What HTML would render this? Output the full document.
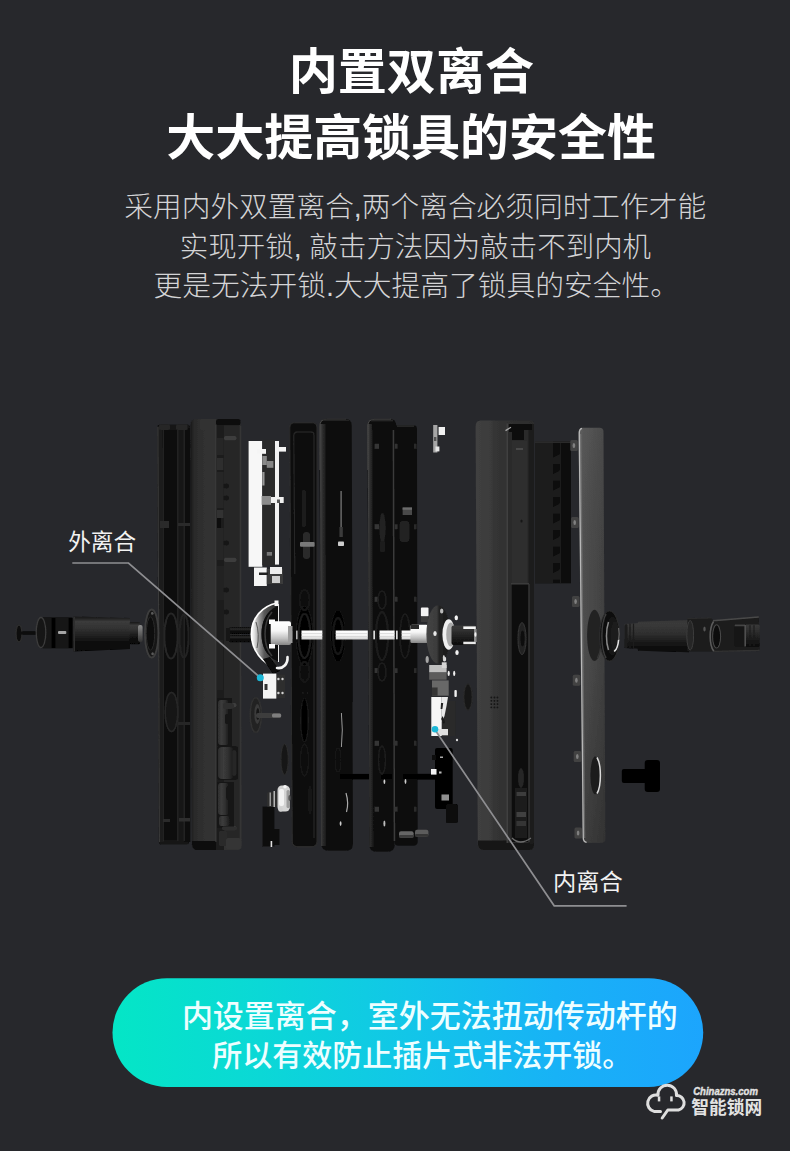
<!DOCTYPE html>
<html><head><meta charset="utf-8"><title>lock</title>
<style>
html,body{margin:0;padding:0;background:#27282c;font-family:"Liberation Sans",sans-serif;}
#p{position:relative;width:790px;height:1151px;overflow:hidden;background:#27282c;}
svg{position:absolute;left:0;top:0;display:block}
</style></head><body><div id="p">
<svg width="790" height="1151" viewBox="0 0 790 1151">
<defs>
<radialGradient id="bg" cx="395" cy="640" r="620" gradientUnits="userSpaceOnUse">
<stop offset="0" stop-color="#2c2e33"/><stop offset="0.55" stop-color="#27282d"/><stop offset="1" stop-color="#222327"/>
</radialGradient>
</defs>
<rect width="790" height="1151" fill="#27282c"/>
<defs><linearGradient id="cylL2" x1="0" y1="0" x2="0" y2="1"><stop offset="0" stop-color="#141414"/><stop offset="0.14" stop-color="#3b3b3b"/><stop offset="0.32" stop-color="#333333"/><stop offset="0.6" stop-color="#1c1c1c"/><stop offset="0.75" stop-color="#0c0c0c"/><stop offset="1" stop-color="#060606"/></linearGradient><linearGradient id="cylR" x1="0" y1="0" x2="0" y2="1"><stop offset="0" stop-color="#363636"/><stop offset="0.12" stop-color="#3a3a3a"/><stop offset="0.45" stop-color="#2d2d2d"/><stop offset="0.75" stop-color="#151515"/><stop offset="1" stop-color="#060606"/></linearGradient><linearGradient id="cylD" x1="0" y1="0" x2="0" y2="1"><stop offset="0" stop-color="#3a3a3a"/><stop offset="0.3" stop-color="#2e2e2e"/><stop offset="0.7" stop-color="#1a1a1a"/><stop offset="1" stop-color="#0b0b0b"/></linearGradient><linearGradient id="cylB" x1="0" y1="0" x2="0" y2="1"><stop offset="0" stop-color="#0a0a0a"/><stop offset="0.3" stop-color="#2a2a2a"/><stop offset="0.6" stop-color="#0d0d0d"/><stop offset="1" stop-color="#050505"/></linearGradient><linearGradient id="cap" x1="0" y1="0" x2="0" y2="1"><stop offset="0" stop-color="#8c8c8c"/><stop offset="0.5" stop-color="#606060"/><stop offset="1" stop-color="#333333"/></linearGradient><linearGradient id="hub" x1="0" y1="0" x2="0" y2="1"><stop offset="0" stop-color="#ffffff"/><stop offset="0.4" stop-color="#f6f6f6"/><stop offset="0.72" stop-color="#c2c2c2"/><stop offset="1" stop-color="#858585"/></linearGradient><linearGradient id="shaft" x1="0" y1="0" x2="0" y2="1"><stop offset="0" stop-color="#ffffff"/><stop offset="0.55" stop-color="#f4f4f4"/><stop offset="1" stop-color="#d2d2d2"/></linearGradient><linearGradient id="cover" x1="0" y1="0" x2="1" y2="0"><stop offset="0" stop-color="#595959"/><stop offset="0.2" stop-color="#4e4e4e"/><stop offset="1" stop-color="#404040"/></linearGradient><linearGradient id="coverV" x1="0" y1="0" x2="0" y2="1"><stop offset="0" stop-color="rgba(255,255,255,0.05)"/><stop offset="0.5" stop-color="rgba(0,0,0,0)"/><stop offset="1" stop-color="rgba(0,0,0,0.22)"/></linearGradient><linearGradient id="p7face" x1="0" y1="0" x2="1" y2="0"><stop offset="0" stop-color="#404040"/><stop offset="0.26" stop-color="#3b3b3b"/><stop offset="0.31" stop-color="#353535"/><stop offset="0.54" stop-color="#303030"/><stop offset="1" stop-color="#2c2c2c"/></linearGradient><linearGradient id="p2face" gradientUnits="userSpaceOnUse" x1="190.5" y1="0" x2="216" y2="0"><stop offset="0" stop-color="#1b1b1b"/><stop offset="0.16" stop-color="#2b2b2b"/><stop offset="0.55" stop-color="#303030"/><stop offset="1" stop-color="#333333"/></linearGradient><linearGradient id="dome" x1="0" y1="0" x2="1" y2="0"><stop offset="0" stop-color="#ffffff"/><stop offset="0.12" stop-color="#e2e2e2"/><stop offset="0.3" stop-color="#9a9a9a"/><stop offset="0.5" stop-color="#5a5a5a"/><stop offset="1" stop-color="#262626"/></linearGradient><linearGradient id="disc" x1="0" y1="0" x2="1" y2="0"><stop offset="0" stop-color="#454545"/><stop offset="0.45" stop-color="#3b3b3b"/><stop offset="0.55" stop-color="#222"/><stop offset="1" stop-color="#1b1b1b"/></linearGradient><linearGradient id="rcyl" x1="0" y1="0" x2="1" y2="0"><stop offset="0" stop-color="#2e2e2e"/><stop offset="0.35" stop-color="#3c3c3c"/><stop offset="0.7" stop-color="#2c2c2c"/><stop offset="1" stop-color="#161616"/></linearGradient><linearGradient id="bev" x1="0" y1="0" x2="1" y2="0"><stop offset="0" stop-color="#484848"/><stop offset="0.35" stop-color="#303030"/><stop offset="1" stop-color="#191919"/></linearGradient><filter id="soft" x="-2%" y="-2%" width="104%" height="104%"><feGaussianBlur stdDeviation="0.45"/></filter></defs>
<g filter="url(#soft)"><path d="M159.4,424.8 H188.0 Q190.0,424.8 190.0,426.8 L189.0,842.6 Q189.0,844.6 187.0,844.6 H160.9 Q158.9,844.6 158.9,842.6 L157.4,426.8 Q157.4,424.8 159.4,424.8Z" fill="#121212" />
<path d="M157.4,427 L158.9,842 L163.8,842 L162.6,427Z" fill="#1f1f1f" />
<path d="M157.9,427 L159.4,842" fill="none" stroke="#3b3b3b" stroke-width="1"/>
<rect x="163.0" y="430.0" width="15.0" height="410.0" fill="#0b0b0b"/>
<rect x="178.0" y="429.0" width="6.0" height="413.0" fill="#191919"/>
<rect x="184.0" y="428.0" width="6.5" height="414.0" fill="#111111"/>
<line x1="177.8" y1="430.0" x2="177.8" y2="841.0" stroke="#303030" stroke-width="0.9" />
<line x1="184.2" y1="430.0" x2="184.2" y2="841.0" stroke="#2c2c2c" stroke-width="0.9" />
<line x1="163.4" y1="430.0" x2="163.4" y2="841.0" stroke="#2a2a2a" stroke-width="0.8" />
<rect x="159.0" y="424.3" width="11.0" height="5.7" fill="#252525" rx="1.5"/>
<rect x="176.0" y="424.3" width="11.5" height="5.7" fill="#252525" rx="1.5"/>
<rect x="160.0" y="521.0" width="9.0" height="7.0" fill="#2c2c2c"/>
<rect x="178.0" y="523.0" width="12.0" height="3.0" fill="#2b2b2b"/>
<ellipse cx="171.0" cy="636.0" rx="6.7" ry="22.5" fill="#090909" stroke="#272727" stroke-width="2"/>
<ellipse cx="184.0" cy="636.0" rx="4.6" ry="21.5" fill="none" stroke="#242424" stroke-width="1.8"/>
<ellipse cx="171.5" cy="712.0" rx="6.3" ry="19.5" fill="#141414" stroke="#262626" stroke-width="1.8"/>
<rect x="163.0" y="819.0" width="7.0" height="3.0" fill="#2c2c2c"/>
<rect x="179.0" y="818.0" width="11.0" height="3.5" fill="#2e2e2e"/>
<rect x="178.0" y="722.0" width="12.0" height="3.0" fill="#272727"/>
<path d="M196.5,419 H236 Q240.5,419 240.5,424 L241.6,846 Q241.6,850 237,850 H197.5 Q192,850 191.8,844 L190.5,425 Q190.5,419 196.5,419Z" fill="url(#p2face)" />
<rect x="200.0" y="419.0" width="16.0" height="11.0" fill="#323232" rx="2"/>
<rect x="216.0" y="419.0" width="24.5" height="6.5" fill="#101010" rx="2"/>
<path d="M192.2,841 H217 V850 H197.5 Q192.2,850 192.2,844Z" fill="#0d0d0d" />
<rect x="216.0" y="425.0" width="8.0" height="425.0" fill="#1c1c1c"/>
<rect x="215.4" y="425.0" width="1.1" height="417.0" fill="#3c3c3c"/>
<rect x="224.0" y="425.5" width="17.0" height="420.5" fill="#272727"/>
<rect x="239.6" y="426.0" width="1.6" height="420.0" fill="#343434"/>
<rect x="217.0" y="438.0" width="6.5" height="17.0" fill="#272727"/>
<rect x="217.0" y="458.0" width="6.5" height="12.0" fill="#2d2d2d"/>
<rect x="217.0" y="472.0" width="6.5" height="36.0" fill="#252525"/>
<rect x="217.0" y="510.0" width="6.5" height="8.0" fill="#303030"/>
<rect x="217.0" y="528.0" width="6.5" height="32.0" fill="#262626"/>
<rect x="217.0" y="566.0" width="6.5" height="34.0" fill="#242424"/>
<rect x="217.0" y="640.0" width="6.5" height="50.0" fill="#232323"/>
<rect x="217.0" y="518.0" width="4.0" height="10.0" fill="#080808"/>
<rect x="224.0" y="436.0" width="12.5" height="4.3" fill="#3e3e3e" rx="2"/>
<rect x="224.0" y="557.7" width="12.5" height="4.3" fill="#3e3e3e" rx="2"/>
<rect x="224.0" y="703.0" width="12.5" height="4.3" fill="#3e3e3e" rx="2"/>
<rect x="224.0" y="826.0" width="12.5" height="4.3" fill="#3e3e3e" rx="2"/>
<rect x="223.5" y="483.5" width="5.5" height="5.0" fill="#181818" rx="2"/>
<rect x="223.5" y="495.5" width="5.5" height="5.0" fill="#181818" rx="2"/>
<rect x="223.5" y="540.5" width="5.5" height="5.0" fill="#181818" rx="2"/>
<rect x="223.5" y="587.5" width="5.5" height="5.0" fill="#181818" rx="2"/>
<rect x="223.5" y="609.5" width="5.5" height="5.0" fill="#181818" rx="2"/>
<rect x="217.0" y="698.0" width="15.0" height="48.0" fill="#161616"/>
<rect x="218.0" y="700.0" width="11.0" height="45.0" fill="url(#rcyl)" rx="3"/>
<rect x="223.0" y="703.0" width="11.0" height="6.0" fill="#2e2e2e" rx="2.5"/>
<rect x="225.0" y="714.0" width="4.5" height="10.0" fill="#141414" rx="2"/>
<rect x="217.0" y="746.0" width="21.0" height="34.0" fill="#131313" rx="3"/>
<rect x="218.0" y="747.0" width="16.0" height="32.0" fill="url(#rcyl)" rx="4"/>
<rect x="232.5" y="750.0" width="4.0" height="26.0" fill="#262626" rx="2"/>
<rect x="217.0" y="782.0" width="17.0" height="46.0" fill="#151515"/>
<rect x="218.0" y="783.0" width="11.0" height="32.0" fill="url(#rcyl)" rx="3"/>
<rect x="226.0" y="786.0" width="7.0" height="14.0" fill="#161616" rx="3"/>
<rect x="219.0" y="816.0" width="11.0" height="10.0" fill="url(#rcyl)" rx="2"/>
<rect x="222.0" y="826.5" width="15.0" height="3.5" fill="#2f2f2f" rx="1.5"/>
<rect x="219.0" y="831.0" width="8.0" height="15.0" fill="#2c2c2c" rx="2"/>
<rect x="226.0" y="838.0" width="15.0" height="11.0" fill="#363636" rx="3"/>
<rect x="248.6" y="441.0" width="13.7" height="125.8" fill="#f7f7f7"/>
<rect x="262.3" y="439.8" width="12.7" height="125.5" fill="#2a2a2a"/>
<rect x="275.0" y="441.0" width="4.0" height="123.6" fill="#f2f2f2"/>
<rect x="279.0" y="447.0" width="7.0" height="4.6" fill="#f5f5f5"/>
<rect x="257.0" y="449.0" width="9.0" height="4.8" fill="#f5f5f5"/>
<rect x="262.3" y="456.0" width="4.5" height="9.0" fill="#8a8a8a"/>
<rect x="266.8" y="461.0" width="6.6" height="6.8" fill="#858585"/>
<rect x="262.3" y="472.0" width="2.2" height="13.5" fill="#9a9a9a"/>
<rect x="261.6" y="496.0" width="9.4" height="8.8" fill="#8c8c8c"/>
<rect x="271.0" y="497.0" width="12.7" height="6.0" fill="#f0f0f0"/>
<rect x="277.0" y="499.5" width="3.0" height="3.5" fill="#555"/>
<rect x="266.8" y="552.0" width="5.2" height="3.7" fill="#777"/>
<rect x="254.0" y="567.5" width="12.8" height="18.5" fill="#f5f5f5"/>
<rect x="266.8" y="569.0" width="16.2" height="15.0" fill="#3a3a3a"/>
<rect x="270.0" y="567.0" width="12.0" height="7.0" fill="#ededed"/>
<rect x="272.0" y="576.0" width="8.0" height="7.0" fill="#cfcfcf"/>
<rect x="259.0" y="572.5" width="9.0" height="2.5" fill="#222"/>
<path d="M294.8,422.8 H312.0 Q317.0,422.8 317.0,427.8 L317.0,841.6 Q317.0,846.6 312.0,846.6 H297.3 Q292.3,846.6 292.3,841.6 L289.8,427.8 Q289.8,422.8 294.8,422.8Z" fill="#0a0a0a" stroke="#2c2c2c" stroke-width="1.1"/>
<path d="M294.8,574 L293.8,436 Q293.8,432 297.5,432 H311 Q314,432 314,435 V838" fill="none" stroke="#262626" stroke-width="1.3"/>
<rect x="301.8" y="490.0" width="4.2" height="37.0" fill="#1f1f1f" rx="2"/>
<rect x="303.0" y="532.0" width="7.0" height="27.0" fill="#2c2c2c" rx="3"/>
<rect x="300.0" y="542.0" width="14.6" height="4.7" fill="#7a7a7a" rx="1"/>
<ellipse cx="304.5" cy="636.0" rx="8.5" ry="30.0" fill="#040404" stroke="#161616" stroke-width="1.2"/>
<ellipse cx="304.5" cy="720.0" rx="4.0" ry="22.0" fill="#060606" stroke="#1a1a1a" stroke-width="1.2"/>
<ellipse cx="310.0" cy="800.0" rx="2.5" ry="14.0" fill="#181818" />
<ellipse cx="303.0" cy="680.0" rx="0.9" ry="0.9" fill="#222" />
<ellipse cx="307.5" cy="680.0" rx="0.9" ry="0.9" fill="#222" />
<ellipse cx="303.0" cy="693.0" rx="0.9" ry="0.9" fill="#222" />
<ellipse cx="307.5" cy="693.0" rx="0.9" ry="0.9" fill="#222" />
<path d="M326.4,418.8 H344.8 Q351.8,418.8 351.8,425.8 L353.0,843.7 Q353.0,850.7 346.0,850.7 H328.4 Q321.4,850.7 321.4,843.7 L319.4,425.8 Q319.4,418.8 326.4,418.8Z" fill="#0c0c0c" />
<path d="M319.9,470 L319.8,426 Q319.8,419.3 326.5,419.3 H346" fill="none" stroke="#474747" stroke-width="1.1"/>
<path d="M320,424 L321,846 L326.2,846 L325.6,424Z" fill="url(#bev)" />
<rect x="323.0" y="419.4" width="26.0" height="1.8" fill="#242424"/>
<rect x="340.4" y="491.0" width="1.4" height="38.0" fill="#6f6f6f"/>
<rect x="339.4" y="527.0" width="3.4" height="10.0" fill="#3a3a3a"/>
<rect x="338.0" y="541.5" width="6.0" height="4.5" fill="#cdcdcd" rx="0.8"/>
<ellipse cx="338.0" cy="636.0" rx="7.5" ry="26.0" fill="#050505" stroke="#141414" stroke-width="1"/>
<path d="M341.4,713 Q343.2,730 341.4,747" fill="none" stroke="#9a9a9a" stroke-width="1"/>
<path d="M346,793 Q349,803 346.5,812" fill="none" stroke="#aaaaaa" stroke-width="1.2"/>
<ellipse cx="340.6" cy="823.6" rx="0.9" ry="2.4" fill="#ccc" />
<rect x="340.0" y="773.9" width="96.0" height="5.5" fill="#040404"/>
<path d="M374.4,418.8 H389.2 Q396.2,418.8 396.2,425.8 L394.6,844.7 Q394.6,851.7 387.6,851.7 H376.4 Q369.4,851.7 369.4,844.7 L367.4,425.8 Q367.4,418.8 374.4,418.8Z" fill="#0e0e0e" />
<path d="M367.9,470 L367.8,426 Q367.8,419.3 374.5,419.3 H391" fill="none" stroke="#474747" stroke-width="1.1"/>
<path d="M367.7,424 L369.5,847 L373.4,847 L372.2,424Z" fill="url(#bev)" />
<rect x="371.0" y="419.6" width="22.0" height="1.8" fill="#272727"/>
<rect x="374.6" y="443.8" width="4.4" height="5.0" fill="#363636"/>
<rect x="374.6" y="524.2" width="4.4" height="5.0" fill="#363636"/>
<rect x="374.6" y="596.8" width="4.4" height="5.0" fill="#363636"/>
<rect x="374.6" y="668.1" width="4.4" height="5.0" fill="#363636"/>
<rect x="374.6" y="740.8" width="4.4" height="5.0" fill="#363636"/>
<rect x="374.6" y="806.7" width="4.4" height="5.0" fill="#363636"/>
<ellipse cx="382.5" cy="528.0" rx="3.2" ry="15.0" fill="#222" />
<rect x="380.0" y="541.0" width="5.0" height="11.0" fill="#1e1e1e" rx="2"/>
<ellipse cx="384.4" cy="781.5" rx="0.9" ry="2.6" fill="#cfcfcf" />
<ellipse cx="384.4" cy="823.6" rx="1.0" ry="3.0" fill="#bdbdbd" />
<rect x="380.6" y="773.9" width="11.4" height="5.5" fill="#030303"/>
<path d="M396.9,425.3 H413.5 Q417.0,425.3 417.0,428.8 L417.5,841.9 Q417.5,845.4 414.0,845.4 H397.9 Q394.4,845.4 394.4,841.9 L393.4,428.8 Q393.4,425.3 396.9,425.3Z" fill="#0d0d0d" />
<path d="M393.4,430 L394.4,841" fill="none" stroke="#3a3a3a" stroke-width="1.5"/>
<rect x="397.0" y="425.3" width="17.0" height="1.5" fill="#2c2c2c"/>
<rect x="402.6" y="507.5" width="9.4" height="7.5" fill="#484848"/>
<rect x="402.6" y="507.5" width="9.4" height="2.3" fill="#6c6c6c"/>
<rect x="399.7" y="521.0" width="9.6" height="21.0" fill="#232323" rx="3"/>
<rect x="394.6" y="443.8" width="3.0" height="5.0" fill="#303030"/>
<rect x="414.0" y="443.8" width="2.6" height="5.0" fill="#2b2b2b"/>
<rect x="394.6" y="524.2" width="3.0" height="5.0" fill="#303030"/>
<rect x="414.0" y="524.2" width="2.6" height="5.0" fill="#2b2b2b"/>
<rect x="394.6" y="596.8" width="3.0" height="5.0" fill="#303030"/>
<rect x="414.0" y="596.8" width="2.6" height="5.0" fill="#2b2b2b"/>
<rect x="394.6" y="668.1" width="3.0" height="5.0" fill="#303030"/>
<rect x="414.0" y="668.1" width="2.6" height="5.0" fill="#2b2b2b"/>
<rect x="394.6" y="740.8" width="3.0" height="5.0" fill="#303030"/>
<rect x="414.0" y="740.8" width="2.6" height="5.0" fill="#2b2b2b"/>
<rect x="394.6" y="806.7" width="3.0" height="5.0" fill="#303030"/>
<rect x="414.0" y="806.7" width="2.6" height="5.0" fill="#2b2b2b"/>
<rect x="402.6" y="773.9" width="33.4" height="5.5" fill="#030303"/>
<ellipse cx="405.5" cy="781.5" rx="0.9" ry="2.4" fill="#cfcfcf" />
<rect x="399.0" y="831.3" width="14.6" height="6.5" fill="#666666" rx="2"/>
<rect x="415.0" y="829.8" width="13.4" height="7.0" fill="#5c5c5c" rx="2"/>
<rect x="399.0" y="835.0" width="14.6" height="2.8" fill="#3c3c3c" rx="1"/>
<rect x="415.0" y="834.0" width="13.4" height="2.8" fill="#363636" rx="1"/>
<ellipse cx="304.5" cy="636.0" rx="6.0" ry="22.0" fill="none" stroke="#1c1c1c" stroke-width="2"/>
<ellipse cx="304.5" cy="600.0" rx="5.0" ry="10.0" fill="none" stroke="#191919" stroke-width="2"/>
<ellipse cx="304.5" cy="672.0" rx="5.0" ry="10.0" fill="none" stroke="#191919" stroke-width="2"/>
<ellipse cx="338.0" cy="636.0" rx="5.0" ry="18.0" fill="none" stroke="#171717" stroke-width="2"/>
<ellipse cx="382.0" cy="636.0" rx="6.0" ry="24.0" fill="none" stroke="#1f1f1f" stroke-width="2"/>
<ellipse cx="382.0" cy="600.0" rx="4.0" ry="9.0" fill="none" stroke="#1d1d1d" stroke-width="1.6"/>
<ellipse cx="382.0" cy="672.0" rx="4.0" ry="9.0" fill="none" stroke="#1d1d1d" stroke-width="1.6"/>
<ellipse cx="405.0" cy="636.0" rx="5.0" ry="22.0" fill="none" stroke="#1b1b1b" stroke-width="1.8"/>
<ellipse cx="304.5" cy="760.0" rx="4.0" ry="16.0" fill="none" stroke="#181818" stroke-width="1.6"/>
<ellipse cx="382.0" cy="760.0" rx="3.5" ry="14.0" fill="none" stroke="#1c1c1c" stroke-width="1.5"/>
<ellipse cx="338.0" cy="760.0" rx="3.0" ry="12.0" fill="none" stroke="#151515" stroke-width="1.4"/>
<rect x="433.2" y="425.0" width="4.2" height="27.5" fill="#a6a6a6"/>
<rect x="438.6" y="427.0" width="6.4" height="8.0" fill="#f0f0f0"/>
<rect x="435.5" y="446.5" width="3.9" height="4.9" fill="#e6e6e6"/>
<rect x="434.0" y="437.0" width="2.4" height="4.0" fill="#555"/>
<rect x="301.5" y="630.5" width="20.8" height="9.0" fill="url(#shaft)"/>
<rect x="335.7" y="630.5" width="32.1" height="9.0" fill="url(#shaft)"/>
<rect x="379.5" y="630.5" width="15.1" height="9.0" fill="url(#shaft)"/>
<rect x="401.6" y="630.5" width="10.4" height="9.0" fill="url(#shaft)"/>
<rect x="296.0" y="630.6" width="1.6" height="8.7" fill="#b5b5b5"/>
<rect x="291.0" y="631.0" width="1.2" height="8.0" fill="#9a9a9a"/>
<rect x="373.3" y="630.6" width="1.7" height="8.7" fill="#dcdcdc"/>
<rect x="396.0" y="630.6" width="1.7" height="8.7" fill="#dcdcdc"/>
<rect x="301.5" y="633.2" width="20.8" height="0.6" fill="#cdcdcd"/>
<rect x="301.5" y="636.0" width="20.8" height="0.6" fill="#cdcdcd"/>
<rect x="335.7" y="633.2" width="32.1" height="0.6" fill="#cdcdcd"/>
<rect x="335.7" y="636.0" width="32.1" height="0.6" fill="#cdcdcd"/>
<rect x="379.5" y="633.2" width="15.1" height="0.6" fill="#cdcdcd"/>
<rect x="379.5" y="636.0" width="15.1" height="0.6" fill="#cdcdcd"/>
<rect x="401.6" y="633.2" width="10.4" height="0.6" fill="#cdcdcd"/>
<rect x="401.6" y="636.0" width="10.4" height="0.6" fill="#cdcdcd"/>
<rect x="229.0" y="627.0" width="24.0" height="7.0" fill="url(#cylB)" rx="1.5"/>
<rect x="229.0" y="635.0" width="24.0" height="7.2" fill="url(#cylB)" rx="1.5"/>
<rect x="226.0" y="628.0" width="4.0" height="13.0" fill="#181818"/>
<path d="M277,603 C262,606 251.5,618 251.3,634 C251.5,650 262,664 277,668 L277,661 C266,656 261.5,646 261.5,634 C261.5,622 266,611 277,606.5Z" fill="url(#dome)" />
<path d="M277,603 C262,606 251.5,618 251.3,634 C251.5,650 262,664 277,668" fill="none" stroke="#ffffff" stroke-width="1.6"/>
<path d="M277,606.5 C266,611 261.5,622 261.5,634 C261.5,646 266,656 277,661 L279,661 L279,606.5Z" fill="#0c0c0c" />
<path d="M272,612 C266.5,618 265,626 265,634 C265,642 266.5,650 272,656" fill="none" stroke="#3a3a3a" stroke-width="1.6"/>
<path d="M256,622 Q260,634 257,648" fill="none" stroke="#555" stroke-width="1"/>
<rect x="274.5" y="600.5" width="4.0" height="5.5" fill="#f6f6f6"/>
<rect x="278.0" y="604.0" width="1.0" height="58.0" fill="#e8e8e8"/>
<rect x="270.7" y="621.3" width="20.3" height="23.7" fill="url(#hub)" rx="2"/>
<rect x="269.0" y="619.5" width="6.0" height="4.5" fill="#fbfbfb"/>
<rect x="269.0" y="644.0" width="6.0" height="4.5" fill="#fbfbfb"/>
<rect x="288.0" y="626.0" width="4.5" height="17.0" fill="#9c9c9c"/>
<path d="M263,659 L270,657 L280,671 L273,674Z" fill="#070707" />
<path d="M277,668 C283,669 288,664 287.5,657" fill="none" stroke="#f5f5f5" stroke-width="2.6" stroke-linecap="round"/>
<rect x="276.3" y="674.5" width="8.7" height="23.5" fill="#2f2f2f"/>
<rect x="263.0" y="673.6" width="13.3" height="25.0" fill="#f4f4f4"/>
<rect x="264.5" y="684.0" width="3.0" height="6.0" fill="#333"/>
<ellipse cx="278.4" cy="679.0" rx="1.2" ry="1.2" fill="#d2d2d2" />
<ellipse cx="282.5" cy="679.0" rx="1.2" ry="1.2" fill="#d2d2d2" />
<ellipse cx="278.4" cy="693.0" rx="1.2" ry="1.2" fill="#d2d2d2" />
<ellipse cx="282.5" cy="693.0" rx="1.2" ry="1.2" fill="#d2d2d2" />
<ellipse cx="255.8" cy="715.0" rx="5.6" ry="17.2" fill="#222222" stroke="#303030" stroke-width="1.6"/>
<ellipse cx="257.3" cy="714.0" rx="3.0" ry="10.0" fill="#3a3a3a" />
<ellipse cx="257.8" cy="714.0" rx="1.6" ry="6.0" fill="#161616" />
<rect x="256.0" y="713.0" width="25.0" height="5.0" fill="#3c3c3c" rx="2"/>
<rect x="272.0" y="713.4" width="9.2" height="4.2" fill="#7e7e7e" rx="1.5"/>
<ellipse cx="284.6" cy="759.4" rx="3.7" ry="15.5" fill="#181818" stroke="#2c2c2c" stroke-width="1"/>
<rect x="262.4" y="806.7" width="11.9" height="39.9" fill="#0f0f0f"/>
<rect x="274.0" y="829.0" width="5.6" height="16.0" fill="#101010"/>
<rect x="267.0" y="792.0" width="11.0" height="15.0" fill="#2e2e2e" rx="2"/>
<rect x="269.5" y="792.5" width="1.5" height="13.5" fill="#9a9a9a"/>
<rect x="273.5" y="791.0" width="1.5" height="16.0" fill="#b5b5b5"/>
<rect x="277.5" y="785.5" width="12.5" height="26.0" fill="#d4d4d4" rx="4.5"/>
<rect x="279.0" y="789.0" width="5.0" height="17.0" fill="#f2f2f2" rx="2"/>
<rect x="286.5" y="790.0" width="3.5" height="18.0" fill="#9c9c9c" rx="1.5"/>
<ellipse cx="285.0" cy="786.8" rx="1.8" ry="1.8" fill="#f6f6f6" />
<ellipse cx="280.5" cy="809.5" rx="2.2" ry="2.2" fill="#cfcfcf" />
<ellipse cx="289.5" cy="798.0" rx="1.2" ry="3.0" fill="#555" />
<rect x="270.6" y="841.0" width="1.6" height="6.0" fill="#e0e0e0"/>
<rect x="410.4" y="624.8" width="17.4" height="18.2" fill="url(#hub)" rx="1.5"/>
<rect x="410.4" y="624.8" width="8.6" height="4.2" fill="#2c2c2c"/>
<ellipse cx="438.2" cy="634.5" rx="11.8" ry="29.2" fill="url(#disc)" />
<rect x="420.9" y="607.4" width="7.6" height="9.0" fill="#f4f4f4" rx="1"/>
<rect x="421.0" y="616.4" width="7.0" height="5.6" fill="#3a3a3a"/>
<ellipse cx="448.7" cy="634.5" rx="6.3" ry="15.3" fill="#efefef" />
<ellipse cx="450.8" cy="634.5" rx="4.6" ry="12.0" fill="#a9a9a9" />
<rect x="451.5" y="625.5" width="24.5" height="19.5" fill="url(#cylD)" rx="2"/>
<rect x="463.3" y="626.4" width="12.5" height="2.6" fill="#f5f5f5"/>
<rect x="463.3" y="641.7" width="12.5" height="2.5" fill="#e9e9e9"/>
<rect x="474.0" y="629.0" width="2.8" height="13.0" fill="#8c8c8c"/>
<ellipse cx="475.6" cy="634.5" rx="1.2" ry="2.2" fill="#f2f2f2" />
<ellipse cx="441.7" cy="610.9" rx="1.7" ry="2.5" fill="#bbb" />
<ellipse cx="456.3" cy="617.8" rx="1.7" ry="2.5" fill="#f3f3f3" />
<ellipse cx="457.0" cy="652.6" rx="1.7" ry="2.5" fill="#f3f3f3" />
<ellipse cx="444.5" cy="659.0" rx="1.7" ry="2.5" fill="#ddd" />
<ellipse cx="435.0" cy="633.5" rx="1.7" ry="2.5" fill="#e8e8e8" />
<ellipse cx="427.2" cy="659.5" rx="1.6" ry="3.6" fill="#a5a5a5" />
<ellipse cx="443.8" cy="657.5" rx="1.0" ry="2.5" fill="#cfcfcf" />
<rect x="429.2" y="665.0" width="17.4" height="7.5" fill="#bfbfbf"/>
<rect x="441.8" y="662.3" width="4.8" height="5.7" fill="#d4d4d4"/>
<rect x="429.2" y="672.5" width="17.4" height="7.2" fill="#5c5c5c"/>
<ellipse cx="448.7" cy="673.4" rx="1.1" ry="2.6" fill="#efefef" />
<ellipse cx="454.2" cy="673.4" rx="1.1" ry="2.6" fill="#efefef" />
<rect x="432.0" y="680.4" width="16.7" height="15.3" fill="#676767"/>
<rect x="432.0" y="687.5" width="5.6" height="8.2" fill="#343434"/>
<rect x="454.4" y="690.0" width="2.4" height="7.0" fill="#f0f0f0" rx="1"/>
<ellipse cx="468.0" cy="697.0" rx="4.2" ry="13.2" fill="#191919" stroke="#2b2b2b" stroke-width="1"/>
<rect x="441.7" y="701.0" width="13.9" height="35.0" fill="#2a2a2a"/>
<rect x="431.3" y="697.0" width="10.4" height="39.0" fill="#f6f6f6"/>
<path d="M441.7,697 L448,697 L446.5,706 L444.5,716 L441.7,722Z" fill="#e9e9e9" />
<path d="M441,703 L443.2,703 L442.4,709 L440.6,709Z" fill="#222" />
<path d="M442.5,716 L445.2,722 L443.5,724 L441.2,719Z" fill="#1a1a1a" />
<rect x="437.5" y="729.0" width="10.5" height="6.3" fill="#e0e0e0"/>
<ellipse cx="457.0" cy="740.0" rx="1.1" ry="1.3" fill="#dedede" />
<rect x="435.0" y="748.0" width="17.7" height="61.0" fill="#060606" rx="2"/>
<rect x="446.0" y="804.0" width="11.7" height="19.0" fill="#080808" rx="1.5"/>
<rect x="432.0" y="755.0" width="4.0" height="5.0" fill="#0a0a0a"/>
<rect x="431.0" y="769.0" width="5.5" height="5.6" fill="#f2f2f2"/>
<rect x="441.5" y="794.5" width="7.5" height="6.0" fill="#8f8f8f"/>
<rect x="440.0" y="756.5" width="3.0" height="1.5" fill="#aaa"/>
<rect x="439.0" y="771.5" width="2.5" height="2.0" fill="#bbb"/>
<path d="M480.5,420.6 H530 Q534,420.6 534,424.5 V845 Q534,850 529,850 H483.5 Q478,850 477.8,844 L475.6,427 Q475.6,420.6 480.5,420.6Z" fill="url(#p7face)" />
<path d="M478,840.5 H534 V845 Q534,850 529,850 H483.5 Q478,850 478,844Z" fill="#181818" />
<rect x="507.0" y="424.0" width="22.0" height="419.0" fill="#2c2c2c"/>
<rect x="506.6" y="423.5" width="1.2" height="419.5" fill="#484848"/>
<rect x="528.6" y="424.0" width="5.4" height="420.0" fill="#1a1a1a" rx="1"/>
<path d="M509,424 H532 V430 H524 V440 H512 V432 H509Z" fill="#0b0b0b" />
<rect x="512.0" y="441.0" width="15.0" height="143.0" fill="#2f2f2f"/>
<rect x="516.0" y="448.0" width="7.0" height="2.0" fill="#484848"/>
<path d="M505.5,430.6 L511,427.3" fill="none" stroke="#a8a8a8" stroke-width="1.3"/>
<rect x="511.6" y="584.0" width="17.4" height="258.0" fill="#101010"/>
<rect x="528.4" y="584.0" width="1.2" height="258.0" fill="#3c3c3c"/>
<rect x="511.0" y="583.0" width="18.0" height="1.5" fill="#3a3a3a"/>
<ellipse cx="522.0" cy="638.6" rx="4.0" ry="16.0" fill="#242424" stroke="#353535" stroke-width="1"/>
<ellipse cx="522.5" cy="638.6" rx="2.0" ry="8.0" fill="#090909" />
<ellipse cx="521.0" cy="778.0" rx="3.0" ry="10.0" fill="#262626" />
<rect x="515.0" y="788.0" width="12.0" height="50.0" fill="#1c1c1c"/>
<rect x="516.5" y="792.0" width="9.5" height="4.0" fill="#3c3c3c"/>
<rect x="516.5" y="812.0" width="9.5" height="5.0" fill="#3f3f3f"/>
<rect x="516.5" y="821.0" width="9.5" height="5.0" fill="#363636"/>
<path d="M512,838 Q520,846 531,838" fill="none" stroke="#6d6d6d" stroke-width="1.3"/>
<ellipse cx="491.3" cy="697.5" rx="0.9" ry="0.9" fill="#141414" />
<ellipse cx="494.4" cy="697.5" rx="0.9" ry="0.9" fill="#141414" />
<ellipse cx="497.5" cy="697.5" rx="0.9" ry="0.9" fill="#141414" />
<ellipse cx="491.3" cy="700.8" rx="0.9" ry="0.9" fill="#141414" />
<ellipse cx="494.4" cy="700.8" rx="0.9" ry="0.9" fill="#141414" />
<ellipse cx="497.5" cy="700.8" rx="0.9" ry="0.9" fill="#141414" />
<ellipse cx="491.3" cy="704.1" rx="0.9" ry="0.9" fill="#141414" />
<ellipse cx="494.4" cy="704.1" rx="0.9" ry="0.9" fill="#141414" />
<ellipse cx="497.5" cy="704.1" rx="0.9" ry="0.9" fill="#141414" />
<ellipse cx="491.3" cy="707.4" rx="0.9" ry="0.9" fill="#141414" />
<ellipse cx="494.4" cy="707.4" rx="0.9" ry="0.9" fill="#141414" />
<ellipse cx="497.5" cy="707.4" rx="0.9" ry="0.9" fill="#141414" />
<ellipse cx="521.5" cy="521.0" rx="1.0" ry="1.6" fill="#141414" />
<rect x="535.0" y="441.6" width="18.0" height="141.9" fill="#1c1c1c"/>
<rect x="553.0" y="441.6" width="18.0" height="141.9" fill="#101010"/>
<rect x="535.0" y="441.6" width="36.0" height="1.4" fill="#2a2a2a"/>
<path d="M553,458.0 L560,454.0 L560,464.0 L553,464.0Z" fill="#1e1e1e" />
<path d="M553,474.5 L560,470.5 L560,480.5 L553,480.5Z" fill="#1e1e1e" />
<path d="M553,491.0 L560,487.0 L560,497.0 L553,497.0Z" fill="#1e1e1e" />
<path d="M553,507.5 L560,503.5 L560,513.5 L553,513.5Z" fill="#1e1e1e" />
<path d="M553,524.0 L560,520.0 L560,530.0 L553,530.0Z" fill="#1e1e1e" />
<path d="M553,540.5 L560,536.5 L560,546.5 L553,546.5Z" fill="#1e1e1e" />
<path d="M553,557.0 L560,553.0 L560,563.0 L553,563.0Z" fill="#1e1e1e" />
<path d="M553,573.5 L560,569.5 L560,579.5 L553,579.5Z" fill="#1e1e1e" />
<rect x="560.0" y="443.0" width="1.0" height="140.0" fill="#1b1b1b"/>
<rect x="570.3" y="440.0" width="7.5" height="11.0" fill="#434343" rx="1.5"/>
<ellipse cx="573.9" cy="445.5" rx="1.3" ry="2.5" fill="#808080" />
<rect x="571.1" y="517.0" width="7.5" height="11.0" fill="#434343" rx="1.5"/>
<ellipse cx="574.7" cy="522.5" rx="1.3" ry="2.5" fill="#808080" />
<rect x="572.0" y="596.0" width="7.5" height="11.0" fill="#434343" rx="1.5"/>
<ellipse cx="575.6" cy="601.5" rx="1.3" ry="2.5" fill="#808080" />
<rect x="572.8" y="674.7" width="7.5" height="11.0" fill="#434343" rx="1.5"/>
<ellipse cx="576.4" cy="680.2" rx="1.3" ry="2.5" fill="#808080" />
<rect x="573.7" y="751.0" width="7.5" height="11.0" fill="#434343" rx="1.5"/>
<ellipse cx="577.3" cy="756.5" rx="1.3" ry="2.5" fill="#808080" />
<rect x="574.5" y="827.4" width="7.5" height="11.0" fill="#434343" rx="1.5"/>
<ellipse cx="578.1" cy="832.9" rx="1.3" ry="2.5" fill="#808080" />
<path d="M582.5,427.7 H599.5 Q603.5,427.7 603.5,431.7 L605.3,838.7 Q605.3,842.7 601.3,842.7 H587 Q582.6,842.7 582.5,838 L578.5,433 Q578.5,427.7 582.5,427.7Z" fill="url(#cover)" />
<path d="M582.5,427.7 H599.5 Q603.5,427.7 603.5,431.7 L605.3,838.7 Q605.3,842.7 601.3,842.7 H587 Q582.6,842.7 582.5,838 L578.5,433 Q578.5,427.7 582.5,427.7Z" fill="url(#coverV)" />
<path d="M582,428.4 Q579.2,429 579.3,433.5 L583.3,838 Q583.4,841.8 586.6,842.3" fill="none" stroke="#b8b8b8" stroke-width="1.3"/>
<path d="M580.6,434 L584.6,838" fill="none" stroke="#8e8e8e" stroke-width="1.4" opacity="0.45"/>
<ellipse cx="594.5" cy="635.4" rx="7.4" ry="25.6" fill="#232324" />
<path d="M597.5,658 C601,651 601.8,640 601.4,632" fill="none" stroke="#373737" stroke-width="1.2"/>
<ellipse cx="595.2" cy="775.4" rx="4.8" ry="18.8" fill="#1c1c1d" />
<path d="M597,757.5 C601.5,765 601.5,786 597,793.5" fill="none" stroke="#dadada" stroke-width="1.5"/>
<ellipse cx="609.5" cy="636.0" rx="9.9" ry="25.2" fill="#101010" stroke="#2e2e2e" stroke-width="1"/>
<path d="M606,614 C600.5,624 600.5,648 606,658" fill="none" stroke="#3d3d3d" stroke-width="1.4"/>
<ellipse cx="612.5" cy="636.0" rx="6.6" ry="19.0" fill="#161616" />
<ellipse cx="615.0" cy="636.0" rx="4.5" ry="14.8" fill="#1c1c1c" />
<path d="M608.5,622 C605.8,630 605.8,642 608.5,650" fill="none" stroke="#8a8a8a" stroke-width="1.5"/>
<path d="M618.6,640 C618,646 616.6,649.5 614.6,651" fill="none" stroke="#e2e2e2" stroke-width="1.6" stroke-linecap="round"/>
<path d="M618.6,628 C619.4,632 619.4,636 618.6,640" fill="none" stroke="#6a6a6a" stroke-width="1.2"/>
<path d="M624.7,624 L637.5,623.2 L638.3,621.8 L689,619.9 L689,652.3 L638.3,650.8 L637.5,648.8 L624.7,648Z" fill="url(#cylR)" />
<rect x="624.7" y="624.0" width="2.8" height="24.0" fill="#1d1d1d" rx="1.5"/>
<line x1="630.0" y1="623.8" x2="630.0" y2="648.3" stroke="#1a1a1a" stroke-width="1.2" />
<line x1="633.5" y1="623.6" x2="633.5" y2="648.6" stroke="#1a1a1a" stroke-width="1.2" />
<path d="M687.4,618.5 L711,618 L713,620.5 L758.8,616.8 L759.6,650.5 L714,651.6 L687.4,651.6Z" fill="#1b1b1b" />
<path d="M713,620.8 L758.8,617" fill="none" stroke="#4a4a4a" stroke-width="1.4"/>
<path d="M714,651.4 L759.4,650.3" fill="none" stroke="#333" stroke-width="1.2"/>
<path d="M687.4,618.6 L711,618" fill="none" stroke="#2c2c2c" stroke-width="1"/>
<ellipse cx="690.2" cy="635.3" rx="3.4" ry="14.8" fill="#262626" stroke="#3c3c3c" stroke-width="1"/>
<path d="M713.6,621.5 C709,628 709,645 713.8,651.2" fill="none" stroke="#5c5c5c" stroke-width="1.6"/>
<ellipse cx="716.6" cy="636.4" rx="4.0" ry="11.6" fill="#0b0b0b" stroke="#474747" stroke-width="1.1"/>
<ellipse cx="704.5" cy="629.0" rx="1.2" ry="2.5" fill="#555" />
<rect x="734.7" y="624.5" width="10.3" height="22.2" fill="#181818"/>
<rect x="734.7" y="624.5" width="10.3" height="1.7" fill="#444444"/>
<rect x="745.0" y="624.5" width="14.7" height="22.2" fill="url(#cylD)" rx="1.5"/>
<rect x="744.4" y="625.0" width="1.6" height="21.4" fill="#505050"/>
<line x1="750.0" y1="625.0" x2="750.0" y2="646.5" stroke="#1a1a1a" stroke-width="1" />
<line x1="754.0" y1="625.0" x2="754.0" y2="646.5" stroke="#1a1a1a" stroke-width="1" />
<rect x="621.8" y="769.0" width="26.2" height="14.0" fill="#050505" rx="2"/>
<rect x="644.7" y="760.0" width="15.3" height="32.0" fill="#050505" rx="3"/>
<ellipse cx="19.0" cy="633.5" rx="2.9" ry="8.4" fill="#090909" stroke="#2d2d2d" stroke-width="1.1"/>
<rect x="21.4" y="631.4" width="14.6" height="3.2" fill="#080808"/>
<rect x="41.0" y="617.2" width="32.5" height="31.2" fill="#151515" rx="2"/>
<ellipse cx="41.0" cy="632.5" rx="4.8" ry="15.0" fill="#181818" stroke="#3c3c3c" stroke-width="1.3"/>
<rect x="51.8" y="618.0" width="3.8" height="30.0" fill="#040404"/>
<rect x="68.5" y="618.0" width="4.0" height="30.0" fill="#050505"/>
<rect x="58.0" y="631.0" width="8.3" height="3.0" fill="#a5a5a5" rx="1"/>
<path d="M73.5,616.6 L130,618 L130,649 L73.5,651.5Z" fill="url(#cylL2)" />
<rect x="73.5" y="616.8" width="1.5" height="34.5" fill="#2e2e2e"/>
<rect x="129.5" y="622.0" width="10.5" height="22.3" fill="url(#cylL2)" rx="1.5"/>
<rect x="138.0" y="625.0" width="4.6" height="17.0" fill="url(#cap)" rx="2"/>
<ellipse cx="151.7" cy="633.5" rx="6.7" ry="24.0" fill="#171717" stroke="#3e3e3e" stroke-width="1.8"/>
<ellipse cx="150.5" cy="633.5" rx="4.2" ry="16.5" fill="#0c0c0c" stroke="#2a2a2a" stroke-width="1"/>
<ellipse cx="152.3" cy="613.3" rx="1.3" ry="1.5" fill="#5a5a5a" />
<ellipse cx="152.6" cy="653.8" rx="1.3" ry="1.5" fill="#5a5a5a" /></g>
<polyline points="72.3,563 128.5,563 259.5,677" fill="none" stroke="#8e8e91" stroke-width="1.7"/><polyline points="626.6,905.8 554.2,905.8 435.5,730.5" fill="none" stroke="#8e8e91" stroke-width="1.7"/><circle cx="260.3" cy="677.7" r="3.5" fill="#1bb7d7"/><circle cx="435" cy="729.3" r="3.3" fill="#1bb7d7"/>
<defs><linearGradient id="pill" x1="0" y1="0" x2="1" y2="0"><stop offset="0" stop-color="#04e6c6"/><stop offset="0.25" stop-color="#0bd8d6"/><stop offset="0.5" stop-color="#12c6e8"/><stop offset="0.75" stop-color="#18b2f6"/><stop offset="1" stop-color="#1ca5fd"/></linearGradient></defs>
<rect x="112.5" y="978.2" width="590.7" height="108.8" rx="54.4" fill="url(#pill)"/>

<text x="288.63" y="89" font-family='"Liberation Sans","Noto Sans CJK SC",sans-serif' font-size="49.13" font-weight="bold" fill="#ffffff">内置双离合</text>
<text x="166.19" y="154.7" font-family='"Liberation Sans","Noto Sans CJK SC",sans-serif' font-size="48.99" font-weight="bold" fill="#ffffff">大大提高锁具的安全性</text>
<text x="124.37" y="216.9" font-family='"Liberation Sans","Noto Sans CJK SC",sans-serif' font-size="28.7" font-weight="300" fill="#d4d4d6">采用内外双置离合,两个离合必须同时工作才能</text>
<text x="179.75" y="256.5" font-family='"Liberation Sans","Noto Sans CJK SC",sans-serif' font-size="28.47" font-weight="300" fill="#d4d4d6" xml:space="preserve">实现开锁, 敲击方法因为敲击不到内机</text>
<text x="153.62" y="296.2" font-family='"Liberation Sans","Noto Sans CJK SC",sans-serif' font-size="28.75" font-weight="300" fill="#d4d4d6">更是无法开锁.大大提高了锁具的安全性。</text>
<text x="68.14" y="550.35" font-family='"Liberation Sans","Noto Sans CJK SC",sans-serif' font-size="22.65" fill="#f2f2f2">外离合</text>
<text x="552.9" y="890" font-family='"Liberation Sans","Noto Sans CJK SC",sans-serif' font-size="23.28" fill="#f2f2f2">内离合</text>
<text x="181.89" y="1026.6" font-family='"Liberation Sans","Noto Sans CJK SC",sans-serif' font-size="31" font-weight="500" fill="#eefeff">内设置离合，室外无法扭动传动杆的</text>
<text x="212.31" y="1066.2" font-family='"Liberation Sans","Noto Sans CJK SC",sans-serif' font-size="30" font-weight="500" fill="#eefeff">所以有效防止插片式非法开锁。</text>
<text x="691.37" y="1113.82" font-family='"Liberation Sans","Noto Sans CJK SC",sans-serif' font-size="17.71" font-weight="bold" fill="#e2e2e2">智能锁网</text>
<text x="693.2" y="1094.7" font-family='"Liberation Sans",sans-serif' font-size="11.2" font-weight="bold" font-style="italic" fill="#e2e2e2" stroke="#e2e2e2" stroke-width="0.4" textLength="64.7" lengthAdjust="spacingAndGlyphs">Chinazns.com</text>
<path d="M662.2,1118 L667.8,1110 L678.5,1110 A7.3,7.3 0 0 0 676.5,1095.6 A9.3,9.3 0 1 0 658,1095.2 A8.2,8.2 0 1 0 654,1111.4 L660.5,1111.4" fill="none" stroke="#dedede" stroke-width="3" stroke-linecap="round" stroke-linejoin="round"/>
<rect x="657.8" y="1096.4" width="2.5" height="5" fill="#dedede"/><rect x="670.2" y="1096.4" width="2.5" height="5" fill="#dedede"/>
</svg>
</div></body></html>
